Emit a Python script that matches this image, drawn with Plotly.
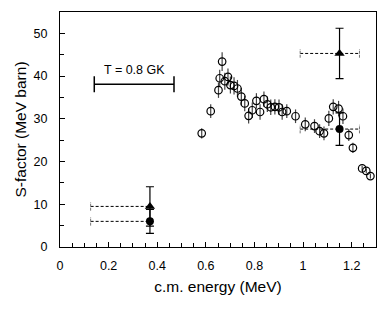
import plotly.graph_objects as go

# Open-circle data (c.m. energy in MeV, S-factor in MeV barn)
energy = [0.583, 0.620, 0.652, 0.657, 0.667, 0.678, 0.691, 0.701, 0.716, 0.730,
          0.746, 0.760, 0.776, 0.791, 0.808, 0.823, 0.839, 0.853, 0.867, 0.884,
          0.901, 0.914, 0.933, 0.969, 1.009, 1.047, 1.068, 1.086, 1.106, 1.124,
          1.146, 1.164, 1.188, 1.205, 1.243, 1.260, 1.277]
sfactor = [26.6, 31.8, 36.7, 39.5, 43.4, 38.8, 39.8, 37.9, 37.7, 37.1,
           35.2, 33.6, 30.7, 32.0, 34.2, 31.6, 34.6, 33.4, 32.7, 32.8,
           32.7, 31.6, 31.8, 30.6, 28.7, 28.3, 27.1, 26.6, 30.1, 32.8,
           32.4, 30.6, 26.2, 23.2, 18.4, 17.8, 16.6]
serr = [1.2, 1.6, 1.8, 2.0, 2.2, 2.0, 2.0, 2.0, 2.0, 2.0,
        2.0, 1.8, 1.8, 1.8, 1.8, 1.8, 1.8, 1.8, 1.8, 1.8,
        1.8, 1.8, 1.6, 1.6, 1.6, 1.6, 1.6, 1.6, 1.8, 1.8,
        1.8, 1.8, 1.4, 1.2, 0.6, 0.6, 0.6]

# Filled triangles
tri_x = [0.370, 1.150]
tri_y = [9.5, 45.3]
tri_err = [4.6, 5.9]
# Filled circles
dot_x = [0.370, 1.150]
dot_y = [6.0, 27.6]
dot_err = [2.8, 3.8]
# Energy ranges (dashed) for the filled points
rng_lo = [0.126, 0.126, 0.988, 0.988]
rng_hi = [0.370, 0.370, 1.232, 1.232]
rng_y = [9.5, 6.0, 45.3, 27.6]
rng_caps_lo = [True, True, True, True]
rng_caps_hi = [False, False, True, True]

# Temperature window bar
t_lo, t_hi, t_y = 0.141, 0.469, 38.1
t_label = "T = 0.8 GK"

fig = go.Figure()

fig.add_trace(go.Scatter(
    x=energy, y=sfactor, mode="markers",
    marker=dict(symbol="circle-open", size=7.5, color="black", line=dict(width=1.2)),
    error_y=dict(type="data", array=serr, color="#444", thickness=1.2, width=0),
    showlegend=False))

# dashed ranges
for lo, hi, y, cl, ch in zip(rng_lo, rng_hi, rng_y, rng_caps_lo, rng_caps_hi):
    fig.add_trace(go.Scatter(x=[lo, hi], y=[y, y], mode="lines",
                             line=dict(color="black", width=1, dash="3px,2px"),
                             showlegend=False, hoverinfo="skip"))
    for xc, on in ((lo, cl), (hi, ch)):
        if on:
            fig.add_trace(go.Scatter(x=[xc, xc], y=[y - 1.0, y + 1.0], mode="lines",
                                     line=dict(color="#777", width=1, dash="3px,1px"),
                                     showlegend=False, hoverinfo="skip"))

fig.add_trace(go.Scatter(
    x=tri_x, y=tri_y, mode="markers",
    marker=dict(symbol="triangle-up", size=9, color="black"),
    error_y=dict(type="data", array=tri_err, color="black", thickness=1.2, width=4),
    showlegend=False))
fig.add_trace(go.Scatter(
    x=dot_x, y=dot_y, mode="markers",
    marker=dict(symbol="circle", size=8, color="black"),
    error_y=dict(type="data", array=dot_err, color="black", thickness=1.2, width=4),
    showlegend=False))

# T window bar
fig.add_trace(go.Scatter(
    x=[(t_lo + t_hi) / 2], y=[t_y], mode="markers",
    marker=dict(size=0.1, color="black"),
    error_x=dict(type="data", array=[(t_hi - t_lo) / 2], color="black", thickness=1.5, width=8),
    showlegend=False, hoverinfo="skip"))
fig.add_annotation(x=(t_lo + t_hi) / 2, y=t_y + 1.3, text=t_label, showarrow=False,
                   yanchor="bottom", font=dict(size=12.5, color="black"))

axis_common = dict(showline=True, linecolor="black", linewidth=1, mirror=True,
                   ticks="inside", ticklen=5, tickcolor="black", showgrid=False,
                   zeroline=False, tickfont=dict(size=12.5, color="black"))
fig.update_xaxes(range=[0, 1.3], tickvals=[0, 0.2, 0.4, 0.6, 0.8, 1.0, 1.2],
                 ticktext=["0", "0.2", "0.4", "0.6", "0.8", "1", "1.2"],
                 ticklabelstandoff=7,
                 minor=dict(dtick=0.05, ticks="inside", ticklen=4, tickcolor="black"),
                 title=dict(text="c.m. energy (MeV)", font=dict(size=15.5, color="black"), standoff=9),
                 **axis_common)
fig.update_yaxes(range=[0, 55], tickvals=[0, 10, 20, 30, 40, 50],
                 ticklabelstandoff=9,
                 minor=dict(dtick=5, ticks="inside", ticklen=4, tickcolor="black"),
                 title=dict(text="S-factor (MeV barn)", font=dict(size=15.5, color="black"), standoff=3),
                 **axis_common)

fig.update_layout(template="none", width=384, height=311, margin=dict(l=60, r=8, t=12, b=64),
                  plot_bgcolor="white", paper_bgcolor="white",
                  font=dict(family="Liberation Sans, Arial, sans-serif", color="black"))

fig.write_html("out.html", config={"displayModeBar": False},
               post_script="document.body.style.margin='0';document.body.style.overflow='hidden';")
